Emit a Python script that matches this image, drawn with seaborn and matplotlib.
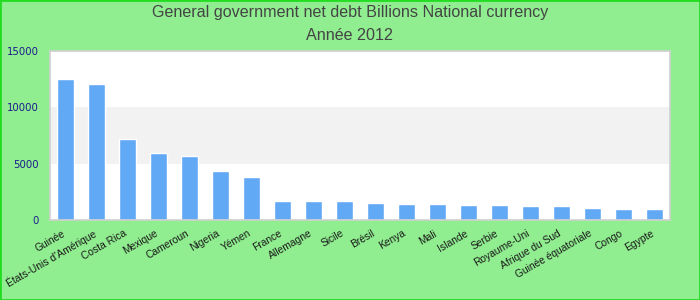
import matplotlib
matplotlib.use("Agg")
import matplotlib.pyplot as plt
import matplotlib.transforms as mtransforms
import seaborn as sns
import pandas as pd
from matplotlib.patches import Rectangle

categories = ["Guinée", "États-Unis d'Amérique", "Costa Rica", "Mexique", "Cameroun",
              "Nigeria", "Yémen", "France", "Allemagne", "Sicile", "Brésil", "Kenya",
              "Mali", "Islande", "Serbie", "Royaume-Uni", "Afrique du Sud",
              "Guinée équatoriale", "Congo", "Egypte"]
values = [12500, 12080, 7200, 5950, 5700, 4350, 3820, 1690, 1690, 1690, 1510, 1420,
          1420, 1330, 1330, 1250, 1250, 1070, 980, 980]
yticks = [0, 5000, 10000, 15000]
title_line1 = "General government net debt Billions National currency"
title_line2 = "Année 2012"

df = pd.DataFrame({"pays": categories, "valeur": values})

sns.set_theme(style="white")
plt.rcParams['font.family'] = ['DejaVu Sans']

fig = plt.figure(figsize=(7, 3), dpi=100, facecolor="#90ee90")
ax = fig.add_axes([50/700, 1 - 220/300, 620/700, 169/300])
ax.set_facecolor("white")
ax.axhspan(5000, 10000, color="#f2f2f2", zorder=0, lw=0)

sns.barplot(data=df, x="pays", y="valeur", color="#62a9f5", width=0.55,
            saturation=1, ax=ax, zorder=2)

ax.set_ylim(0, 15000)
ax.set_xlim(-0.5, len(categories) - 0.5)
ax.set_yticks(yticks)
ax.set_yticklabels([str(v) for v in yticks], color="#1a1a8c", fontsize=7.3)
ax.tick_params(axis="y", length=0, pad=8)
ax.tick_params(axis="x", length=0, pad=6)
ax.set_xticks(range(len(categories)))
ax.set_xticklabels(categories, rotation=30, ha="right", rotation_mode="anchor",
                   fontsize=7.4, color="#1a1a1a", family=["Liberation Sans", "DejaVu Sans"])
shift = mtransforms.ScaledTranslation(-4/100, 0, fig.dpi_scale_trans)
for lbl in ax.get_xticklabels():
    lbl.set_transform(lbl.get_transform() + shift)
ax.set_xlabel("")
ax.set_ylabel("")
for s in ax.spines.values():
    s.set_color("#d0d0d0")
    s.set_linewidth(1.2)

fig.text(0.5, 1 - 13/300, title_line1, ha="center", va="center", fontsize=11.6,
         color="#444444", family=["Liberation Sans", "DejaVu Sans"])
fig.text(0.5, 1 - 36/300, title_line2, ha="center", va="center", fontsize=11.6,
         color="#444444", family=["Liberation Sans", "DejaVu Sans"])

fig.patches.append(Rectangle((0, 0), 1, 1, transform=fig.transFigure, fill=False,
                             edgecolor="#22dd22", linewidth=2))

fig.savefig("out.png", dpi=100, facecolor=fig.get_facecolor())
